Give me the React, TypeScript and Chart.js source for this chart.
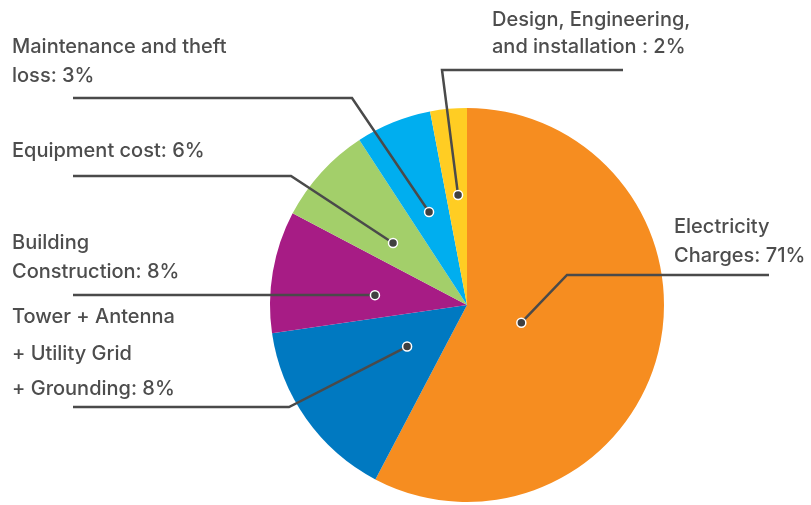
import React, { useEffect, useRef } from "react";
import { Chart, registerables } from "chart.js";

Chart.register(...registerables);

const categories = [
  "Electricity Charges",
  "Tower + Antenna + Utility Grid + Grounding",
  "Building Construction",
  "Equipment cost",
  "Maintenance and theft loss",
  "Design, Engineering, and installation",
];
// slice sizes as drawn in the picture (share of the circle, %)
const sliceValues = [57.7, 15.0, 10.0, 8.1, 6.2, 3.0];
const sliceColors = ["#F68D20", "#0079C1", "#A71C85", "#A3CF6A", "#00AEEF", "#FFCD23"];
const labelLines = [
  ["Electricity", "Charges: 71%"],
  ["Tower + Antenna", "+ Utility Grid", "+ Grounding: 8%"],
  ["Building", "Construction: 8%"],
  ["Equipment cost: 6%"],
  ["Maintenance and theft", "loss: 3%"],
  ["Design, Engineering,", "and installation : 2%"],
];

// annotation layout: dot placement inside slice (angle fraction, radius fraction),
// text position, leader line elbow and end
const calloutLayout = [
  { af: 0.52, rf: 0.29, tx: 674, baselines: [233, 262], elbow: [567, 275], endX: 769 },
  { af: 0.51, rf: 0.37, tx: 12, baselines: [323, 360, 395], elbow: [289, 407], endX: 73 },
  { af: 0.4, rf: 0.47, tx: 12, baselines: [249, 278], elbow: [370, 295], endX: 73 },
  { af: 0.42, rf: 0.49, tx: 12, baselines: [157], elbow: [291, 176], endX: 73 },
  { af: 0.49, rf: 0.51, tx: 12, baselines: [53, 82], elbow: [352, 98], endX: 73 },
  { af: 0.57, rf: 0.56, tx: 492, baselines: [26, 53], elbow: [442, 70], endX: 623 },
];

const calloutPlugin = {
  id: "callouts",
  afterDraw(chart: any) {
    const ctx = chart.ctx;
    const meta = chart.getDatasetMeta(0);
    ctx.save();
    meta.data.forEach((arc: any, i: number) => {
      const L = calloutLayout[i];
      const p = arc.getProps(["x", "y", "startAngle", "endAngle", "outerRadius"], true);
      const a = p.startAngle + (p.endAngle - p.startAngle) * L.af;
      const r = p.outerRadius * L.rf;
      const dx = p.x + Math.cos(a) * r;
      const dy = p.y + Math.sin(a) * r;
      ctx.strokeStyle = "#4a4a4a";
      ctx.lineWidth = 2.5;
      ctx.lineJoin = "miter";
      ctx.beginPath();
      ctx.moveTo(dx, dy);
      ctx.lineTo(L.elbow[0], L.elbow[1]);
      ctx.lineTo(L.endX, L.elbow[1]);
      ctx.stroke();
      ctx.beginPath();
      ctx.arc(dx, dy, 4.5, 0, Math.PI * 2);
      ctx.fillStyle = "#404040";
      ctx.fill();
      ctx.lineWidth = 1.5;
      ctx.strokeStyle = "#ffffff";
      ctx.stroke();
      ctx.fillStyle = "#4d4d4d";
      ctx.font = "500 20px Inter";
      ctx.textBaseline = "alphabetic";
      ctx.textAlign = "left";
      labelLines[i].forEach((t, j) => ctx.fillText(t, L.tx, L.baselines[j]));
    });
    ctx.restore();
  },
};

export default function App() {
  const ref = useRef<HTMLCanvasElement>(null);
  useEffect(() => {
    if (!ref.current) return;
    const chart = new Chart(ref.current, {
      type: "pie",
      data: {
        labels: categories,
        datasets: [
          {
            data: sliceValues,
            backgroundColor: sliceColors,
            borderWidth: 0,
          },
        ],
      },
      options: {
        animation: false,
        responsive: false,
        events: [],
        layout: { padding: { top: 108, bottom: 3, left: 270, right: 147 } },
        plugins: { legend: { display: false }, tooltip: { enabled: false } },
      },
      plugins: [calloutPlugin],
    });
    return () => chart.destroy();
  }, []);
  return (
    <div style={{ position: "fixed", left: 0, top: 0, width: 811, height: 505, background: "#fff" }}>
      <canvas ref={ref} width={811} height={505} style={{ display: "block" }} />
    </div>
  );
}
